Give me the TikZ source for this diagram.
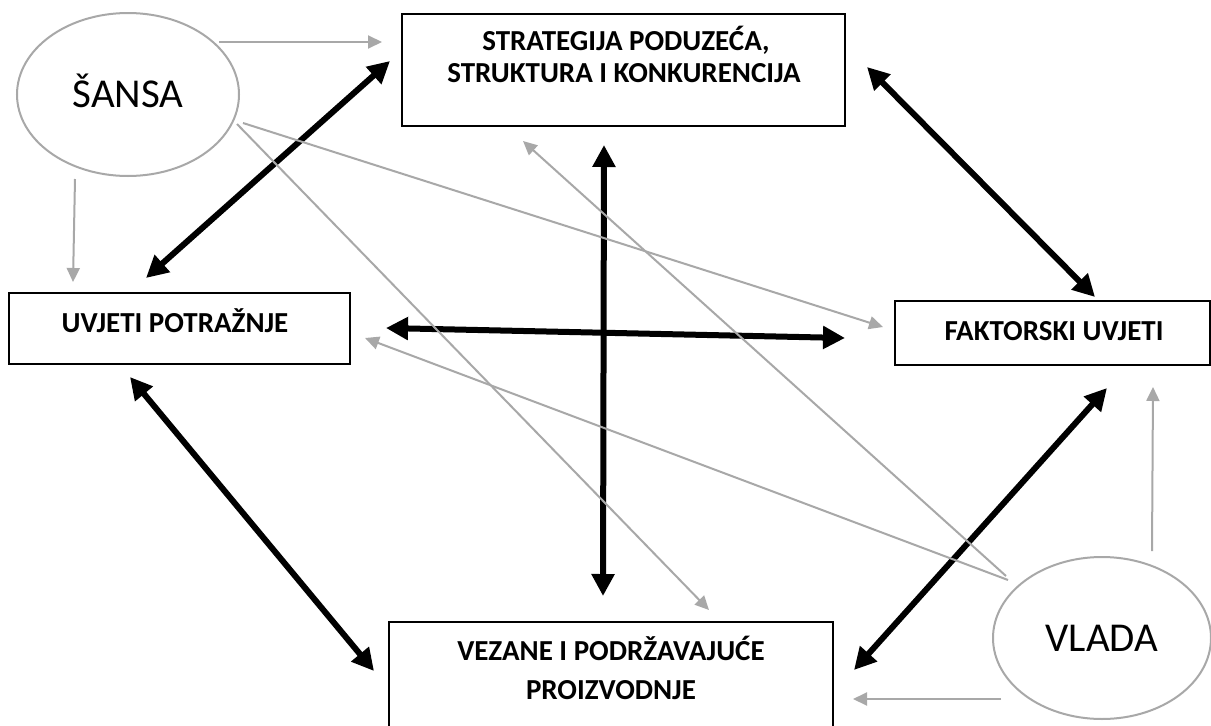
\documentclass[tikz,border=0pt]{standalone}
\usepackage{fontspec}
\setmainfont{Carlito}
\usetikzlibrary{arrows.meta,shapes.geometric}
\definecolor{linegray}{RGB}{168,168,168}
\begin{document}
\begin{tikzpicture}[x=1pt,y=-1pt,
  box/.style={draw=black,line width=1.5pt,rectangle,inner sep=0pt},
  oval/.style={draw=linegray,line width=2pt,ellipse,inner sep=0pt,
    font=\fontsize{41}{48}\selectfont,text height=26pt,text depth=0pt},
  btext/.style={font=\fontsize{29}{34}\selectfont\bfseries,anchor=base,inner sep=0pt},
  strong/.style={draw=black,line width=6pt,{Triangle[length=22pt,width=22pt]}-{Triangle[length=22pt,width=22pt]}},
  weak/.style={draw=linegray,line width=2pt,-{Triangle[length=14pt,width=13pt]}}]
\clip (0,0) rectangle (1211,726);
\fill[white] (0,0) rectangle (1211,726);

% ovals
\node[oval,minimum width=222pt,minimum height=163pt] (sansa) at (128,94.5) {ŠANSA};
\node[oval,minimum width=218pt,minimum height=162pt] (vlada) at (1102,638) {VLADA};

% boxes
\node[box,minimum width=443pt,minimum height=112pt] (strat) at (623.5,70) {};
\node[btext] (strat1) at (626,50) {STRATEGIJA PODUZEĆA,};
\node[btext] (strat2) at (624,82) {STRUKTURA I KONKURENCIJA};

\node[box,minimum width=341pt,minimum height=71pt] (uvjeti) at (179.5,328.5) {};
\node[btext] (uvjetiT) at (175,332) {UVJETI POTRAŽNJE};

\node[box,minimum width=315pt,minimum height=64pt] (fakt) at (1052.5,333) {};
\node[btext] (faktT) at (1054,340) {FAKTORSKI UVJETI};

\node[box,minimum width=444pt,minimum height=130pt,anchor=north] (vez) at (611,621) {};
\node[btext] (vez1) at (611,660) {VEZANE I PODRŽAVAJUĆE};
\node[btext] (vez2) at (611,699) {PROIZVODNJE};

% connector ends
\coordinate (uvS) at (146,278);   \coordinate (stU) at (390,61);
\coordinate (stF) at (867,67);    \coordinate (faS) at (1095,297);
\coordinate (uvF) at (386,328);   \coordinate (faU) at (845,338);
\coordinate (stV) at (604,145);   \coordinate (veS) at (603,596);
\coordinate (uvV) at (130,377);   \coordinate (veU) at (374,671);
\coordinate (faV) at (1107,388);  \coordinate (veF) at (854,670);

\coordinate (saR) at (219,42);    \coordinate (stSa) at (382,42);
\coordinate (saB) at (75,179);    \coordinate (uvSa) at (73,282);
\coordinate (saF) at (243,123);   \coordinate (faSa) at (883,327);
\coordinate (saV) at (237,124);   \coordinate (veSa) at (709,610);
\coordinate (vlU) at (1008,580);  \coordinate (uvVl) at (365,338);
\coordinate (vlS) at (1006,576);  \coordinate (stVl) at (523,141);
\coordinate (vlT) at (1152,551);  \coordinate (faVl) at (1153,387);
\coordinate (vlL) at (1001,699);  \coordinate (veVl) at (853,699);

% black double arrows
\draw[strong] (uvS) -- (stU);
\draw[strong] (stF) -- (faS);
\draw[strong] (uvF) -- (faU);
\draw[strong] (stV) -- (veS);
\draw[strong] (uvV) -- (veU);
\draw[strong] (faV) -- (veF);

% gray arrows
\draw[weak] (saR) -- (stSa);
\draw[weak] (saB) -- (uvSa);
\draw[weak] (saF) -- (faSa);
\draw[weak] (saV) -- (veSa);
\draw[weak] (vlU) -- (uvVl);
\draw[weak] (vlS) -- (stVl);
\draw[weak] (vlT) -- (faVl);
\draw[weak] (vlL) -- (veVl);
\end{tikzpicture}
\end{document}
